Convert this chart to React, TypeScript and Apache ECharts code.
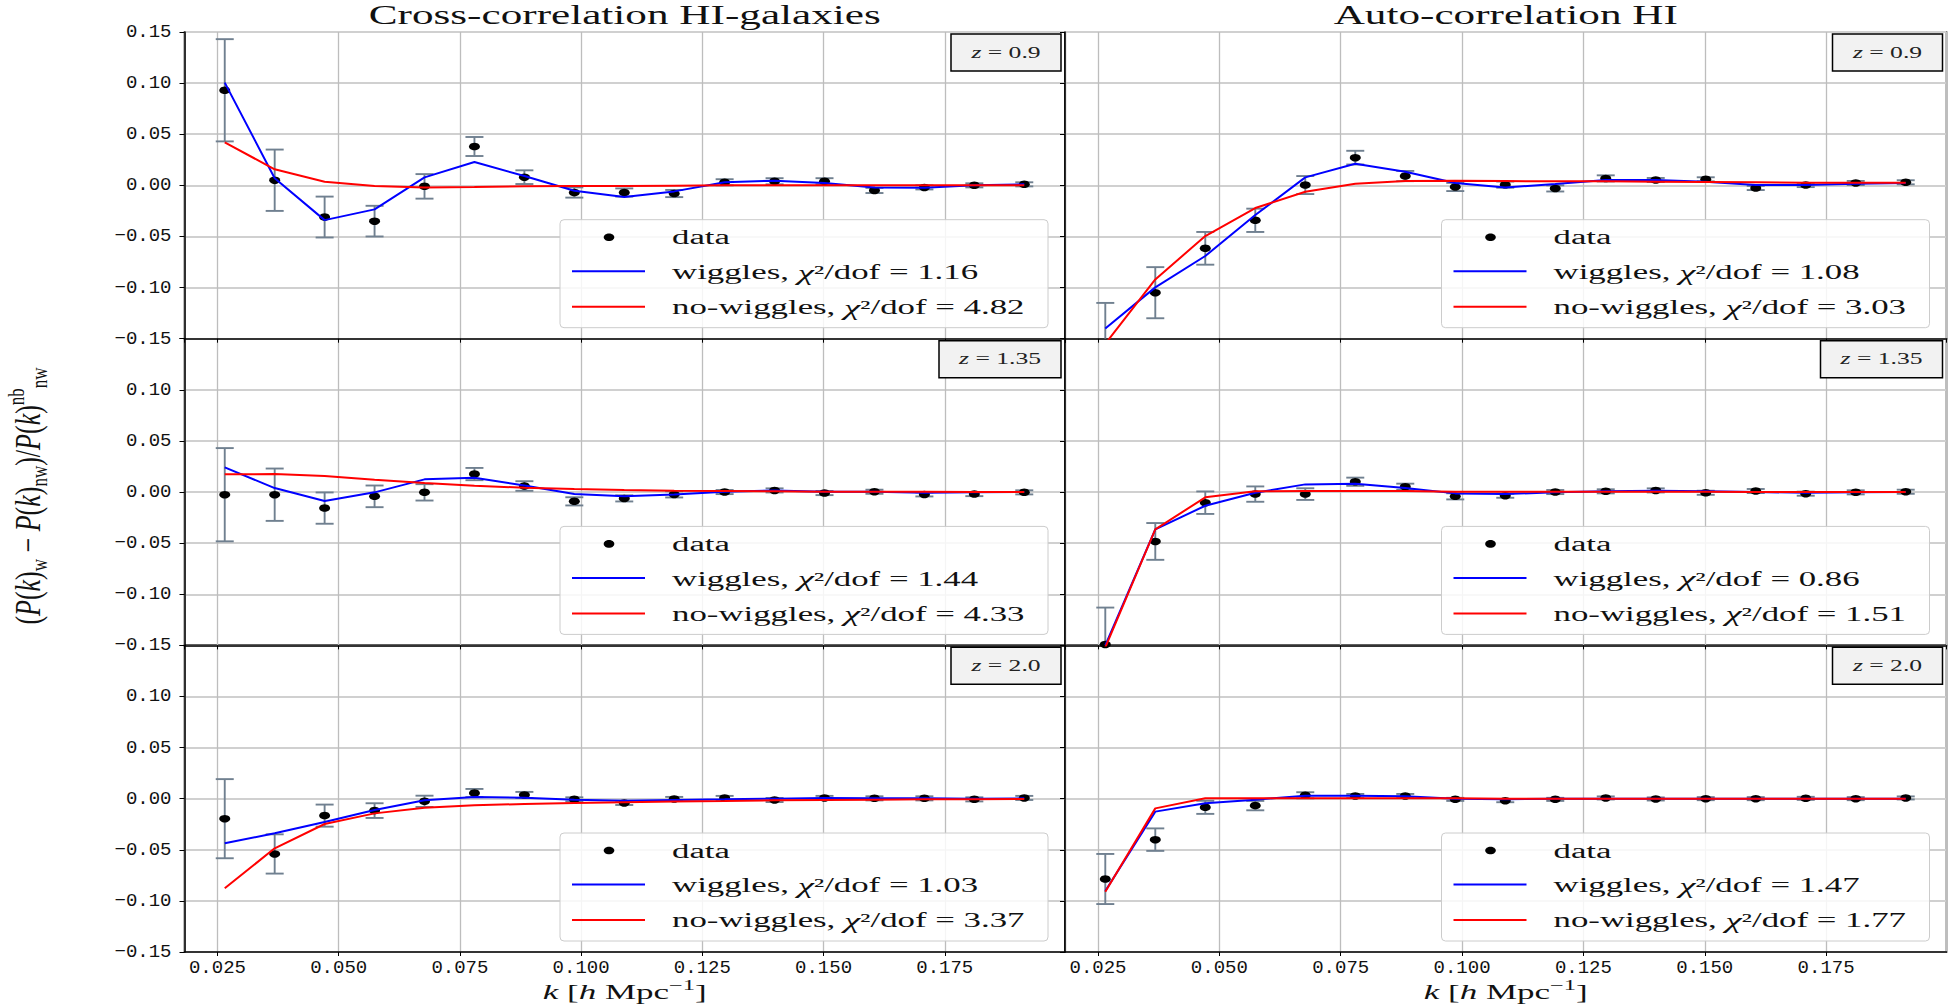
import React, { useEffect, useRef } from "react";
import * as echarts from "echarts";

// ---------- data ----------
const K = [0.0265, 0.0368, 0.0471, 0.0574, 0.0677, 0.078, 0.0883, 0.0986, 0.1089, 0.1192, 0.1296, 0.1399, 0.1502, 0.1605, 0.1708, 0.1811, 0.1914];

const COLUMN_TITLES = ["Cross-correlation HI-galaxies", "Auto-correlation HI"];
const REDSHIFTS = ["0.9", "1.35", "2.0"];
// panel order: row-major (cross z=0.9, auto z=0.9, cross z=1.35, auto z=1.35, cross z=2.0, auto z=2.0)
const CHI2_WIGGLES = ["1.16", "1.08", "1.44", "0.86", "1.03", "1.47"];
const CHI2_NOWIGGLES = ["4.82", "3.03", "4.33", "1.51", "3.37", "1.77"];

const crossZ09Data = [0.093, 0.005, -0.031, -0.035, -0.001, 0.038, 0.008, -0.007, -0.007, -0.008, 0.003, 0.004, 0.004, -0.005, -0.002, 0.0, 0.001];
const crossZ09Err = [0.05, 0.03, 0.02, 0.015, 0.012, 0.0093, 0.0067, 0.005, 0.004, 0.0035, 0.003, 0.003, 0.003, 0.0025, 0.002, 0.002, 0.002];
const crossZ09Wig = [0.1005, 0.007, -0.034, -0.0235, 0.0078, 0.0228, 0.0091, -0.0052, -0.0114, -0.0059, 0.003, 0.0046, 0.0023, -0.002, -0.0023, 0.0, 0.001];
const crossZ09NoWig = [0.042, 0.0157, 0.0036, -0.0007, -0.002, -0.0016, -0.001, -0.0007, -0.0007, -0.0003, 0.0, 0.0, 0.0, 0.0, 0.0, 0.0, 0.0];

const autoZ09Data = [-0.16, -0.105, -0.0616, -0.0342, 0.0003, 0.0271, 0.0091, -0.0016, 0.0007, -0.003, 0.0068, 0.0052, 0.0059, -0.0026, 0.0003, 0.0023, 0.003];
const autoZ09Err = [0.045, 0.025, 0.016, 0.0114, 0.0088, 0.0067, 0.005, 0.004, 0.003, 0.003, 0.003, 0.002, 0.002, 0.002, 0.002, 0.002, 0.002];
const autoZ09Wig = [-0.14, -0.0998, -0.0691, -0.029, 0.0078, 0.0212, 0.0134, 0.0023, -0.002, 0.0013, 0.0052, 0.0052, 0.0036, 0.0003, 0.0003, 0.0016, 0.0023];
const autoZ09NoWig = [-0.155, -0.092, -0.0496, -0.0222, -0.0062, 0.0016, 0.0042, 0.0046, 0.0042, 0.0039, 0.0039, 0.0036, 0.0033, 0.003, 0.0026, 0.0026, 0.0026];

const crossZ135Data = [-0.0026, -0.0026, -0.0157, -0.0042, -0.0003, 0.0176, 0.0059, -0.0091, -0.0062, -0.0023, 0.0, 0.0016, -0.001, 0.0003, -0.0023, -0.002, -0.0003];
const crossZ135Err = [0.0456, 0.0256, 0.0153, 0.0106, 0.008, 0.006, 0.0047, 0.004, 0.003, 0.003, 0.002, 0.002, 0.002, 0.002, 0.002, 0.002, 0.002];
const crossZ135Wig = [0.0241, 0.0039, -0.0088, -0.0003, 0.0124, 0.014, 0.0065, -0.002, -0.0042, -0.0023, 0.0003, 0.0016, 0.0003, 0.0003, -0.0007, -0.0003, 0.0];
const crossZ135NoWig = [0.0173, 0.0176, 0.0157, 0.0121, 0.0088, 0.0062, 0.0042, 0.0029, 0.002, 0.0013, 0.001, 0.0007, 0.0003, 0.0003, 0.0002, 0.0001, 0.0];

const autoZ135Data = [-0.149, -0.0483, -0.0104, -0.002, -0.002, 0.0101, 0.0052, -0.0042, -0.0036, 0.0, 0.0007, 0.0016, -0.0007, 0.001, -0.0016, -0.0003, 0.0003];
const autoZ135Err = [0.036, 0.018, 0.011, 0.0075, 0.0057, 0.004, 0.003, 0.003, 0.002, 0.002, 0.002, 0.002, 0.002, 0.002, 0.002, 0.002, 0.002];
const autoZ135Wig = [-0.15, -0.0365, -0.0134, -0.0007, 0.0075, 0.0082, 0.0039, -0.0013, -0.002, -0.0003, 0.0007, 0.0013, 0.0007, 0.0, -0.0007, -0.0003, 0.0];
const autoZ135NoWig = [-0.152, -0.0365, -0.0052, 0.0007, 0.001, 0.001, 0.001, 0.0003, 0.0003, 0.0003, 0.0003, 0.0003, 0.0003, 0.0, 0.0, 0.0, 0.0];

const crossZ20Data = [-0.0196, -0.0541, -0.0166, -0.0117, -0.0026, 0.0055, 0.0036, -0.0007, -0.0042, -0.0003, 0.0007, -0.0013, 0.0007, 0.0003, 0.0003, -0.0007, 0.0007];
const crossZ20Err = [0.0387, 0.0192, 0.0108, 0.0072, 0.0055, 0.004, 0.003, 0.002, 0.002, 0.002, 0.002, 0.002, 0.002, 0.002, 0.002, 0.002, 0.002];
const crossZ20Wig = [-0.0437, -0.0339, -0.0228, -0.0111, -0.0016, 0.0016, 0.001, -0.001, -0.002, -0.0013, -0.0007, 0.0, 0.0007, 0.0003, 0.0003, 0.0, 0.0003];
const crossZ20NoWig = [-0.0877, -0.0486, -0.0248, -0.0144, -0.0088, -0.0065, -0.0052, -0.0042, -0.0036, -0.0029, -0.0023, -0.0016, -0.0013, -0.001, -0.0007, -0.0007, -0.0003];

const autoZ20Data = [-0.0786, -0.0401, -0.0085, -0.0068, 0.0033, 0.0026, 0.0026, -0.0007, -0.002, -0.0007, 0.0007, -0.0003, 0.0, 0.0, 0.0003, 0.0, 0.0007];
const autoZ20Err = [0.0245, 0.011, 0.0064, 0.0046, 0.003, 0.002, 0.002, 0.0015, 0.0015, 0.0015, 0.0015, 0.0015, 0.0015, 0.0015, 0.0015, 0.0015, 0.0015];
const autoZ20Wig = [-0.0903, -0.0127, -0.0046, -0.001, 0.0029, 0.0029, 0.0023, 0.0, -0.0007, 0.0, 0.0, 0.0, 0.0, 0.0, 0.0, 0.0, 0.0];
const autoZ20NoWig = [-0.091, -0.0095, 0.0003, 0.0003, 0.0003, 0.0003, 0.0003, 0.0003, 0.0, 0.0, 0.0, 0.0, 0.0, 0.0, 0.0, 0.0, 0.0];

const PANEL_DATA = [crossZ09Data, autoZ09Data, crossZ135Data, autoZ135Data, crossZ20Data, autoZ20Data];
const PANEL_ERR = [crossZ09Err, autoZ09Err, crossZ135Err, autoZ135Err, crossZ20Err, autoZ20Err];
const PANEL_WIG = [crossZ09Wig, autoZ09Wig, crossZ135Wig, autoZ135Wig, crossZ20Wig, autoZ20Wig];
const PANEL_NOWIG = [crossZ09NoWig, autoZ09NoWig, crossZ135NoWig, autoZ135NoWig, crossZ20NoWig, autoZ20NoWig];

// ---------- layout ----------
const COL_LEFT = [184.5, 1065];
const COL_W = [880.5, 881.5];
const ROW_TOP = [32, 338.7, 645.3];
const ROW_H = 306.7;
const X_MIN = 0.0182;
const X_MAX = 0.1998;
const Y_MIN = -0.15;
const Y_MAX = 0.15;
const SERIF = "Liberation Serif";
const TICK_FONT = "Liberation Mono";
const INK = "#111";

const fmtY = (v: number) => {
  const s = v.toFixed(2);
  return s.startsWith("-") ? "\u2212" + s.slice(1) : s;
};

function buildOption() {
  const grid: any[] = [];
  const xAxis: any[] = [];
  const yAxis: any[] = [];
  const series: any[] = [];
  const graphic: any[] = [];

  for (let p = 0; p < 6; p++) {
    const row = Math.floor(p / 2);
    const col = p % 2;
    const gl = COL_LEFT[col];
    const gt = ROW_TOP[row];
    const gw = COL_W[col];
    const gr = gl + gw;
    const gb = gt + ROW_H;

    grid.push({
      left: gl,
      top: gt,
      width: gw,
      height: ROW_H,
      show: true,
      borderColor: "#000",
      borderWidth: 1.5,
      backgroundColor: "transparent",
      containLabel: false,
    });

    xAxis.push({
      type: "value",
      gridIndex: p,
      min: X_MIN,
      max: X_MAX,
      minInterval: 0.025,
      maxInterval: 0.025,
      axisLine: { show: true, onZero: false, lineStyle: { color: "#000", width: 1.5 } },
      axisTick: { show: true, length: 4, lineStyle: { color: "#000", width: 1 } },
      splitLine: { show: true, lineStyle: { color: "#bdbdbd", width: 1.3 } },
      axisLabel: {
        show: row === 2,
        margin: 6,
        fontFamily: TICK_FONT,
        fontSize: 19,
        color: INK,
        showMinLabel: false,
        showMaxLabel: false,
        formatter: (v: number) => {
          const r = v / 0.025;
          return Math.abs(r - Math.round(r)) < 1e-6 ? v.toFixed(3) : "";
        },
      },
    });

    yAxis.push({
      type: "value",
      gridIndex: p,
      min: Y_MIN,
      max: Y_MAX,
      interval: 0.05,
      axisLine: { show: true, onZero: false, lineStyle: { color: "#000", width: 1.5 } },
      axisTick: { show: true, length: 5, lineStyle: { color: "#000", width: 1 } },
      splitLine: { show: true, lineStyle: { color: "#d0d0d0", width: 2 } },
      axisLabel: {
        show: col === 0,
        margin: 13,
        fontFamily: TICK_FONT,
        fontSize: 19,
        color: INK,
        formatter: (v: number) => (row > 0 && v > 0.149 ? "" : fmtY(v)),
      },
    });

    const vals = PANEL_DATA[p];
    const errs = PANEL_ERR[p];

    series.push({
      type: "custom",
      name: "errorbars",
      xAxisIndex: p,
      yAxisIndex: p,
      z: 2,
      silent: true,
      encode: { x: 0, y: [1, 2] },
      data: K.map((k, i) => [k, vals[i] - errs[i], vals[i] + errs[i]]),
      renderItem: (params: any, api: any) => {
        const x = api.value(0);
        const lo = api.value(1);
        const hi = api.value(2);
        if (hi < Y_MIN || lo > Y_MAX) return null;
        const loC = Math.max(lo, Y_MIN);
        const hiC = Math.min(hi, Y_MAX);
        const a = api.coord([x, hiC]);
        const b = api.coord([x, loC]);
        const st = { stroke: "#708090", lineWidth: 1.9 };
        const children: any[] = [
          { type: "line", shape: { x1: a[0], y1: a[1], x2: b[0], y2: b[1] }, style: st },
        ];
        const cw = 9;
        if (hi <= Y_MAX) {
          const c = api.coord([x, hi]);
          children.push({ type: "line", shape: { x1: c[0] - cw, y1: c[1], x2: c[0] + cw, y2: c[1] }, style: st });
        }
        if (lo >= Y_MIN) {
          const c = api.coord([x, lo]);
          children.push({ type: "line", shape: { x1: c[0] - cw, y1: c[1], x2: c[0] + cw, y2: c[1] }, style: st });
        }
        return { type: "group", children };
      },
    });

    series.push({
      type: "scatter",
      name: "data",
      xAxisIndex: p,
      yAxisIndex: p,
      z: 3,
      clip: true,
      symbol: "circle",
      symbolSize: [11, 7.5],
      itemStyle: { color: "#000", opacity: 1 },
      data: K.map((k, i) => [k, vals[i]]),
    });

    series.push({
      type: "line",
      name: "wiggles, \u03c7\u00b2/dof = " + CHI2_WIGGLES[p],
      xAxisIndex: p,
      yAxisIndex: p,
      z: 4,
      clip: true,
      showSymbol: false,
      symbol: "none",
      lineStyle: { color: "#0000ff", width: 2 },
      itemStyle: { color: "#0000ff" },
      data: K.map((k, i) => [k, PANEL_WIG[p][i]]),
    });

    series.push({
      type: "line",
      name: "no-wiggles, \u03c7\u00b2/dof = " + CHI2_NOWIGGLES[p],
      xAxisIndex: p,
      yAxisIndex: p,
      z: 5,
      clip: true,
      showSymbol: false,
      symbol: "none",
      lineStyle: { color: "#ff0000", width: 2 },
      itemStyle: { color: "#ff0000" },
      data: K.map((k, i) => [k, PANEL_NOWIG[p][i]]),
    });

    // legend box
    const lw = 488;
    const lh = 108;
    const L = gr - 17 - lw;
    const T = gb - 11 - lh;
    const legendRich = {
      n: { fontFamily: SERIF, fontSize: 20, fill: INK, color: INK },
      i: { fontFamily: SERIF, fontSize: 21, fontStyle: "italic", fill: INK, color: INK },
    };
    const lt = (text: string, y: number) => ({
      type: "text",
      z: 101,
      x: L + 112,
      y,
      scaleX: 1.74,
      style: { text, rich: legendRich, fontFamily: SERIF, fontSize: 20, fill: INK, align: "left", verticalAlign: "middle", textAlign: "left", textVerticalAlign: "middle" },
    });
    graphic.push(
      {
        type: "rect",
        z: 100,
        shape: { x: L, y: T, width: lw, height: lh, r: 4 },
        style: { fill: "rgba(255,255,255,0.85)", stroke: "#cccccc", lineWidth: 1 },
      },
      { type: "ellipse", z: 101, shape: { cx: L + 49, cy: T + 17.5, rx: 5.3, ry: 3.8 }, style: { fill: "#000" } },
      { type: "line", z: 101, shape: { x1: L + 12, y1: T + 51.5, x2: L + 85, y2: T + 51.5 }, style: { stroke: "#0000ff", lineWidth: 2 } },
      { type: "line", z: 101, shape: { x1: L + 12, y1: T + 87, x2: L + 85, y2: T + 87 }, style: { stroke: "#ff0000", lineWidth: 2 } },
      lt("{n|data}", T + 18),
      lt("{n|wiggles, }{i|\u03c7}{n|\u00b2/dof = " + CHI2_WIGGLES[p] + "}", T + 52.5),
      lt("{n|no-wiggles, }{i|\u03c7}{n|\u00b2/dof = " + CHI2_NOWIGGLES[p] + "}", T + 87.5)
    );

    // redshift box
    const zl = REDSHIFTS[row];
    const zw = zl.length > 3 ? 122 : 110;
    const zx = gr - 4 - zw;
    const zy = gt + 2;
    const zRich = {
      n: { fontFamily: SERIF, fontSize: 16, fill: "#222", color: "#222" },
      i: { fontFamily: SERIF, fontSize: 16, fontStyle: "italic", fill: "#222", color: "#222" },
    };
    graphic.push(
      {
        type: "rect",
        z: 100,
        shape: { x: zx, y: zy, width: zw, height: 37 },
        style: { fill: "#f2f2f2", stroke: "#000", lineWidth: 1.5 },
      },
      {
        type: "text",
        z: 101,
        x: zx + zw / 2,
        y: zy + 18.5,
        scaleX: 1.6,
        style: { text: "{i|z}{n| = " + zl + "}", rich: zRich, fontFamily: SERIF, fontSize: 16, fill: "#222", align: "center", verticalAlign: "middle", textAlign: "center", textVerticalAlign: "middle" },
      }
    );
  }

  // column titles and x-axis names
  for (let c = 0; c < 2; c++) {
    const cx = COL_LEFT[c] + COL_W[c] / 2;
    graphic.push({
      type: "text",
      z: 101,
      x: cx,
      y: 15.5,
      scaleX: 1.6,
      style: { text: COLUMN_TITLES[c], fontFamily: SERIF, fontSize: 27, fill: INK, align: "center", verticalAlign: "middle", textAlign: "center", textVerticalAlign: "middle" },
    });
    graphic.push({
      type: "text",
      z: 101,
      x: cx,
      y: 992,
      scaleX: 1.75,
      style: {
        text: "{i|k}{n| [}{i|h}{n| Mpc}{sup|\u22121}{n|]}",
        rich: {
          n: { fontFamily: SERIF, fontSize: 20, lineHeight: 27, verticalAlign: "middle", fill: INK, color: INK },
          i: { fontFamily: SERIF, fontSize: 20, fontStyle: "italic", lineHeight: 27, verticalAlign: "middle", fill: INK, color: INK },
          sup: { fontFamily: SERIF, fontSize: 14, lineHeight: 14, verticalAlign: "top", fill: INK, color: INK },
        },
        fontFamily: SERIF,
        fontSize: 20,
        fill: INK,
        align: "center",
        verticalAlign: "middle",
        textAlign: "center",
        textVerticalAlign: "middle",
      },
    });
  }

  // y-axis label (rotated)
  graphic.push({
    type: "text",
    z: 101,
    x: 28,
    y: 496,
    rotation: Math.PI / 2,
    scaleY: 1.35,
    style: {
      text:
        "{n|(}{i|P}{n|(}{i|k}{n|)}{sub|w}{n| \u2212 }{i|P}{n|(}{i|k}{n|)}{sub|nw}{n|)/}{i|P}{n|(}{i|k}{n|)}{sup|nb}{sub|nw}",
      rich: {
        n: { fontFamily: SERIF, fontSize: 26, lineHeight: 34, verticalAlign: "middle", fill: INK, color: INK },
        i: { fontFamily: SERIF, fontSize: 26, fontStyle: "italic", lineHeight: 34, verticalAlign: "middle", fill: INK, color: INK },
        sub: { fontFamily: SERIF, fontSize: 17, lineHeight: 17, verticalAlign: "bottom", fill: INK, color: INK },
        sup: { fontFamily: SERIF, fontSize: 17, lineHeight: 17, verticalAlign: "top", fill: INK, color: INK },
      },
      fontFamily: SERIF,
      fontSize: 26,
      fill: INK,
      align: "center",
      verticalAlign: "middle",
      textAlign: "center",
      textVerticalAlign: "middle",
    },
  });

  return {
    animation: false,
    backgroundColor: "#ffffff",
    grid,
    xAxis,
    yAxis,
    series,
    graphic,
  };
}

export default function App() {
  const ref = useRef<HTMLDivElement>(null);
  useEffect(() => {
    if (!ref.current) return;
    const chart = echarts.init(ref.current, undefined, { renderer: "svg" });
    chart.setOption(buildOption() as any);
    return () => chart.dispose();
  }, []);
  return (
    <div
      ref={ref}
      style={{ position: "fixed", left: 0, top: 0, width: "1949px", height: "1007px", background: "#fff" }}
    />
  );
}
